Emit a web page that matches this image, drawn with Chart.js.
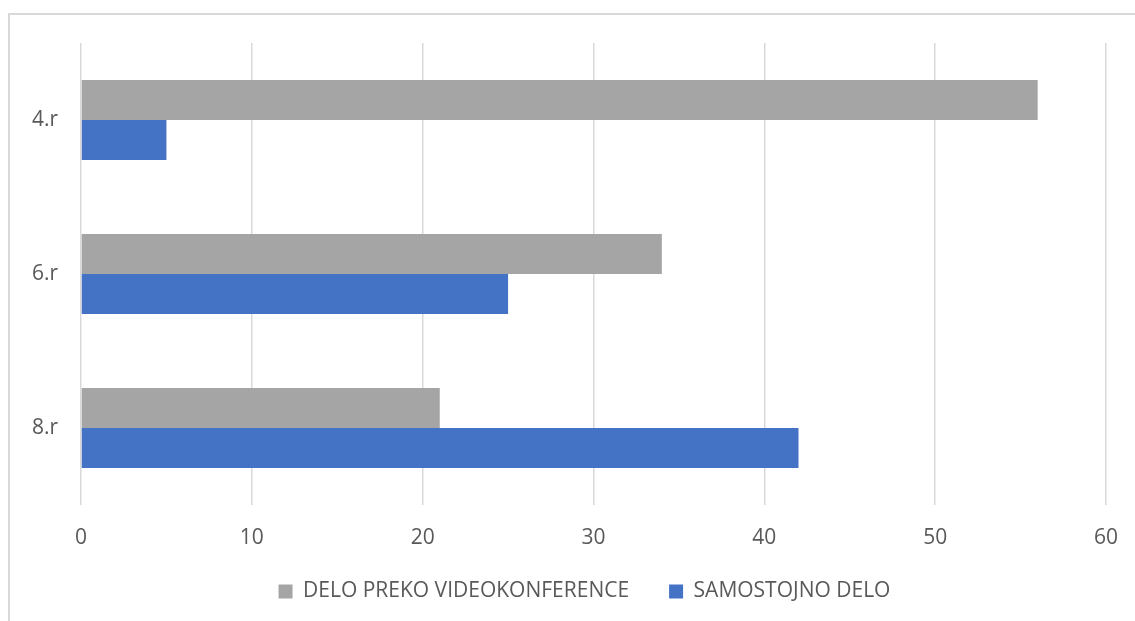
<!DOCTYPE html>
<html>
<head>
<meta charset="utf-8">
<script src="https://cdn.jsdelivr.net/npm/chart.js@4"></script>
<style>
  html, body { margin: 0; padding: 0; background: #fff; }
  #wrap { position: relative; width: 1135px; height: 621px; overflow: hidden; }
  #frame {
    position: absolute; left: 8px; top: 13px; width: 1200px; height: 700px;
    border: 2px solid #d9d9d9; box-sizing: border-box;
  }
  canvas { position: absolute; left: 0; top: 0; }
</style>
</head>
<body>
<div id="wrap">
  <div id="frame"></div>
  <canvas id="chart" width="1135" height="621"></canvas>
</div>
<script>
/* ======================
   DATA
====================== */
const categories = ["4.r", "6.r", "8.r"];
const videoValues = [56, 34, 21];
const selfValues = [5, 25, 42];
const seriesNames = ["DELO PREKO VIDEOKONFERENCE", "SAMOSTOJNO DELO"];
const xTicks = [0, 10, 20, 30, 40, 50, 60];

const TEXT = "#595959";
const FONT = "'Open Sans', 'Liberation Sans', sans-serif";

/* ======================
   LEGEND PLACEMENT
   (Excel centres the legend under the plot, a bit lower than Chart.js)
====================== */
const legendPlace = {
  id: "legendPlace",
  beforeLayout(chart) {
    const lg = chart.legend;
    if (lg && !lg._fixed) {
      const fit = lg.fit;
      lg.fit = function () { fit.call(this); this.height = 40; };
      lg._fixed = true;
    }
  },
  afterLayout(chart) {
    const lg = chart.legend;
    if (!lg) return;
    const dx = 31.5;
    lg.left += dx;
    lg.right += dx;
    lg.top = 541;
    lg.bottom = 621;
    lg.height = lg.bottom - lg.top;
  }
};

/* ======================
   CHART
====================== */
new Chart(document.getElementById("chart"), {
  type: "bar",
  data: {
    labels: categories,
    datasets: [
      {
        label: seriesNames[0],
        data: videoValues,
        backgroundColor: "#a5a5a5",
        barPercentage: 1,
        categoryPercentage: 0.52
      },
      {
        label: seriesNames[1],
        data: selfValues,
        backgroundColor: "#4472c4",
        barPercentage: 1,
        categoryPercentage: 0.52
      }
    ]
  },
  options: {
    indexAxis: "y",
    responsive: false,
    animation: false,
    layout: { padding: { left: 0, right: 29, top: 43, bottom: 16 } },
    scales: {
      x: {
        min: xTicks[0],
        max: xTicks[xTicks.length - 1],
        afterBuildTicks: axis => { axis.ticks = xTicks.map(v => ({ value: v })); },
        afterFit: axis => {
          axis.height = 60;
          axis.paddingLeft = 0;
          axis.paddingRight = 0;
        },
        grid: { color: "#d9d9d9", lineWidth: 1.5, drawTicks: false },
        border: { display: false },
        ticks: { color: TEXT, font: { family: FONT, size: 21 }, padding: 20 }
      },
      y: {
        afterFit: axis => { axis.width = 81; },
        grid: { display: false, drawTicks: false },
        border: { display: false },
        ticks: { color: TEXT, font: { family: FONT, size: 21 }, padding: 23 }
      }
    },
    plugins: {
      legend: {
        position: "bottom",
        labels: {
          color: TEXT,
          font: { family: FONT, size: 21 },
          boxWidth: 14,
          boxHeight: 14,
          padding: 40
        }
      },
      tooltip: { enabled: false }
    }
  },
  plugins: [legendPlace]
});
</script>
</body>
</html>
